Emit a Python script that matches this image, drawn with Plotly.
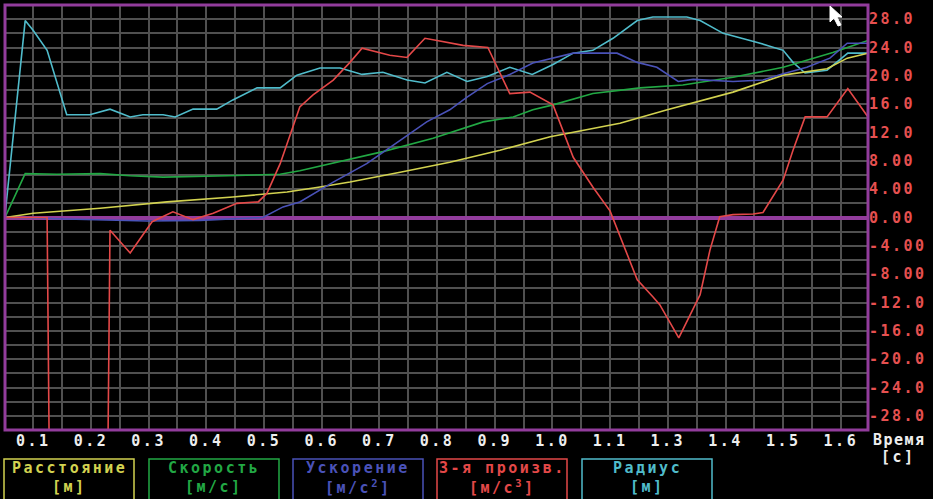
import plotly.graph_objects as go

# ---------------- data ----------------
# time positions on the chart's own time scale
t_dist = [0.051, 0.100, 0.216, 0.332, 0.446, 0.540, 0.597, 0.649, 0.736, 0.822, 0.909,
          0.996, 1.117, 1.199, 1.313, 1.400, 1.476, 1.511, 1.547]
v_dist = [0.0, 0.6, 1.3, 2.2, 2.9, 3.6, 4.3, 5.0, 6.4, 7.8, 9.5,
          11.4, 13.3, 15.2, 17.7, 20.1, 21.0, 22.5, 23.2]

t_vel = [0.051, 0.086, 0.141, 0.216, 0.268, 0.325, 0.436, 0.528, 0.562, 0.620, 0.706,
         0.793, 0.880, 0.932, 0.966, 1.001, 1.070, 1.152, 1.226, 1.313, 1.400, 1.486, 1.547]
v_vel = [0.0, 6.2, 6.1, 6.2, 5.9, 5.7, 5.9, 6.1, 6.6, 7.7, 9.3,
         11.2, 13.5, 14.2, 15.2, 15.9, 17.5, 18.3, 18.7, 19.8, 21.2, 23.3, 25.0]

t_acc = [0.051, 0.228, 0.297, 0.389, 0.498, 0.533, 0.562, 0.620, 0.678, 0.736, 0.782,
         0.822, 0.852, 0.887, 0.921, 0.966, 1.001, 1.036, 1.082, 1.112, 1.147, 1.181,
         1.218, 1.244, 1.313, 1.365, 1.400, 1.441, 1.481, 1.511, 1.547]
v_acc = [0.0, -0.3, -0.5, -0.4, 0.0, 1.5, 2.2, 5.0, 7.6, 10.9, 13.5,
         15.2, 17.0, 18.9, 20.0, 21.8, 22.5, 23.2, 23.2, 23.2, 21.9, 21.2,
         19.2, 19.5, 19.2, 19.4, 20.3, 21.2, 22.5, 24.6, 24.6]

t_jerk = [0.051, 0.124, 0.129, 0.228, 0.233, 0.268, 0.306, 0.342, 0.377, 0.412, 0.453,
          0.490, 0.505, 0.528, 0.562, 0.585, 0.620, 0.649, 0.670, 0.718, 0.748, 0.779,
          0.800, 0.845, 0.888, 0.926, 0.961, 1.001, 1.036, 1.070, 1.100, 1.117, 1.147,
          1.174, 1.186, 1.219, 1.256, 1.273, 1.290, 1.313, 1.348, 1.365, 1.400, 1.417,
          1.438, 1.476, 1.512, 1.547]
v_jerk = [0.0, 0.0, -45.0, -45.0, -1.8, -5.0, -0.6, 0.8, -0.3, 0.6, 2.0,
          2.2, 3.4, 7.6, 15.6, 17.3, 19.4, 21.9, 23.9, 22.9, 22.6, 25.3,
          25.0, 24.3, 24.0, 17.5, 17.7, 15.9, 8.5, 4.3, 0.9, -2.7, -8.8,
          -11.2, -12.3, -17.0, -10.9, -4.6, 0.1, 0.4, 0.5, 0.7, 5.3, 9.5,
          14.2, 14.2, 18.2, 14.2]

t_rad = [0.051, 0.086, 0.100, 0.124, 0.158, 0.198, 0.233, 0.268, 0.290, 0.325, 0.346,
         0.377, 0.418, 0.446, 0.488, 0.528, 0.557, 0.597, 0.632, 0.670, 0.706, 0.748,
         0.779, 0.817, 0.852, 0.887, 0.926, 0.965, 1.001, 1.036, 1.070, 1.105, 1.147,
         1.174, 1.233, 1.256, 1.296, 1.360, 1.400, 1.417, 1.438, 1.476, 1.512, 1.547]
v_rad = [0.3, 27.8, 26.4, 23.6, 14.5, 14.5, 15.3, 14.2, 14.5, 14.5, 14.2,
         15.3, 15.3, 16.6, 18.3, 18.3, 20.1, 21.1, 21.1, 20.2, 20.5, 19.4,
         19.0, 20.5, 19.2, 19.9, 21.2, 20.2, 21.6, 23.2, 23.6, 25.3, 27.8,
         28.3, 28.3, 27.8, 26.0, 24.6, 23.6, 21.9, 20.4, 20.8, 23.2, 23.2]

x_tick_vals = [round(0.1 * k, 1) for k in range(1, 16)]
x_tick_text = ["0.1", "0.2", "0.3", "0.4", "0.5", "0.6", "0.7", "0.8", "0.9", "1.0",
               "1.1", "1.3", "1.4", "1.5", "1.6"]
y_tick_vals = [28, 24, 20, 16, 12, 8, 4, 0, -4, -8, -12, -16, -20, -24, -28]
y_tick_text = ["28.0", "24.0", "20.0", "16.0", "12.0", "8.00", "4.00", "0.00",
               "-4.00", "-8.00", "-12.0", "-16.0", "-20.0", "-24.0", "-28.0"]

series_names = ["Расстояние", "Скорость", "Ускорение", "3-я произв.", "Радиус"]
series_units = ["[м]", "[м/с]", "[м/с<sup>2</sup>]", "[м/с<sup>3</sup>]", "[м]"]

# ---------------- styling ----------------
C_DIST = "#d2d250"
C_VEL = "#22a844"
C_ACC = "#4a52b8"
C_JERK = "#e44848"
C_RAD = "#50bccb"
PURPLE = "#923c9c"
GRID = "#505050"
FONT = "DejaVu Sans Mono"

W, H = 933, 499
L, R, T, B = 5, 65, 5, 69
PW, PH = W - L - R, H - T - B


def sp(s, ls=2.5):
    return f'<span style="letter-spacing:{ls}px">{s}</span>'


def px(xp):
    return (xp - L) / PW


def py(yp):
    return (H - B - yp) / PH


fig = go.Figure()
for t, v, c in [(t_rad, v_rad, C_RAD), (t_dist, v_dist, C_DIST), (t_vel, v_vel, C_VEL),
                (t_acc, v_acc, C_ACC), (t_jerk, v_jerk, C_JERK)]:
    fig.add_trace(go.Scatter(x=t, y=v, mode="lines", line=dict(color=c, width=1.6),
                             showlegend=False, hoverinfo="skip"))

fig.update_layout(
    width=W, height=H,
    margin=dict(l=L, r=R, t=T, b=B),
    paper_bgcolor="black", plot_bgcolor="black",
    font=dict(family=FONT, size=15, color="#eeeeee", weight="bold"),
    xaxis=dict(range=[0.051, 1.547], tickvals=x_tick_vals,
               ticktext=[sp(s) for s in x_tick_text],
               showgrid=True, gridcolor=GRID, gridwidth=2, zeroline=False,
               minor=dict(dtick=0.05, tick0=0, showgrid=True, gridcolor=GRID, gridwidth=2),
               showline=False, ticks="", tickfont=dict(color="#eeeeee", size=15)),
    yaxis=dict(range=[-30, 30], side="right", tickvals=y_tick_vals,
               ticktext=[sp(s) for s in y_tick_text],
               showgrid=True, gridcolor=GRID, gridwidth=2,
               minor=dict(dtick=2, tick0=0, showgrid=True, gridcolor=GRID, gridwidth=2),
               zeroline=True, zerolinecolor=PURPLE, zerolinewidth=4,
               showline=False, ticks="", tickfont=dict(color="#e65050", size=15)),
)

shapes = [dict(type="rect", xref="paper", yref="paper", x0=0, x1=1, y0=0, y1=1,
               line=dict(color=PURPLE, width=3), layer="above")]
annotations = []
box_left = [4, 149, 293, 437, 582]
box_colors = [C_DIST, C_VEL, C_ACC, C_JERK, C_RAD]
for x0, c, n, u in zip(box_left, box_colors, series_names, series_units):
    x1 = x0 + 130
    shapes.append(dict(type="rect", xref="paper", yref="paper",
                       x0=px(x0), x1=px(x1), y0=py(459), y1=py(515),
                       line=dict(color=c, width=1.5)))
    cx = px((x0 + x1) / 2)
    annotations.append(dict(xref="paper", yref="paper", x=cx, y=py(468), text=sp(n),
                            showarrow=False, font=dict(color=c, size=15),
                            xanchor="center", yanchor="middle"))
    annotations.append(dict(xref="paper", yref="paper", x=cx, y=py(487), text=sp(u),
                            showarrow=False, font=dict(color=c, size=15),
                            xanchor="center", yanchor="middle"))

annotations.append(dict(xref="paper", yref="paper", x=px(871), y=py(440), text=sp("Время", 1.5),
                        showarrow=False, font=dict(color="#eeeeee", size=15),
                        xanchor="left", yanchor="middle"))
annotations.append(dict(xref="paper", yref="paper", x=px(898), y=py(457), text=sp("[с]"),
                        showarrow=False, font=dict(color="#eeeeee", size=15),
                        xanchor="center", yanchor="middle"))

# mouse cursor seen in the screenshot
cur = [(830, 6), (830, 22), (834, 18), (838, 26), (841, 25), (837, 17), (842, 17)]
path = "M " + " L ".join(f"{px(a):.5f},{py(b):.5f}" for a, b in cur) + " Z"
shapes.append(dict(type="path", xref="paper", yref="paper", path=path,
                   fillcolor="white", line=dict(color="white", width=1), layer="above"))

fig.update_layout(shapes=shapes, annotations=annotations)
fig.write_html("out.html", config={"displayModeBar": False},
               post_script="document.body.style.margin='0';document.body.style.overflow='hidden';")
